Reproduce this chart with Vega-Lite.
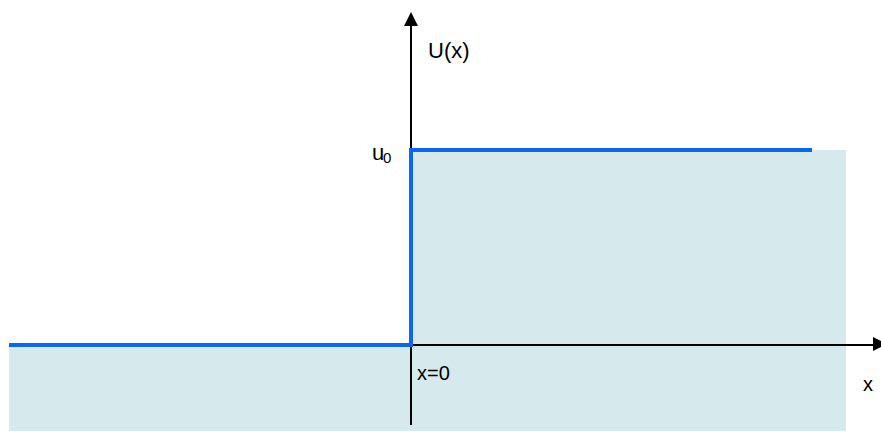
{
  "$schema": "https://vega.github.io/schema/vega-lite/v6.json",
  "width": 881,
  "height": 432,
  "autosize": {"type": "none"},
  "padding": 0,
  "background": "white",
  "config": {"view": {"stroke": null}},
  "datasets": {
    "regions": [
      {"x0": -4.02, "x1": 0, "y0": -0.441, "y1": 0},
      {"x0": 0, "x1": 4.35, "y0": -0.441, "y1": 1}
    ],
    "axes": [
      {"x0": -4.02, "x1": 4.64, "y0": 0, "y1": 0},
      {"x0": 0, "x1": 0, "y0": -0.41, "y1": 1.64}
    ],
    "potential": [
      {"i": 0, "x": -4.02, "u": 0},
      {"i": 1, "x": 0, "u": 0},
      {"i": 2, "x": 0, "u": 1},
      {"i": 3, "x": 4.01, "u": 1}
    ],
    "arrowUp": [{"x": 0, "y": 1.672}],
    "arrowRight": [{"x": 4.69, "y": 0.005}],
    "labels": [
      {"x": 0.17, "y": 1.472, "text": "U(x)", "size": 22},
      {"x": -0.39, "y": 0.949, "text": "u", "size": 22},
      {"x": -0.28, "y": 0.935, "text": "0", "size": 15},
      {"x": 0.06, "y": -0.179, "text": "x=0", "size": 20},
      {"x": 4.52, "y": -0.236, "text": "x", "size": 20}
    ]
  },
  "encoding": {},
  "layer": [
    {
      "data": {"name": "regions"},
      "mark": {"type": "rect", "color": "#d6eaed"},
      "encoding": {
        "x": {"field": "x0", "type": "quantitative", "scale": {"domain": [-4.11, 4.7], "nice": false, "zero": false}, "axis": null},
        "x2": {"field": "x1"},
        "y": {"field": "y0", "type": "quantitative", "scale": {"domain": [-0.446, 1.769], "nice": false, "zero": false}, "axis": null},
        "y2": {"field": "y1"}
      }
    },
    {
      "data": {"name": "axes"},
      "mark": {"type": "rule", "color": "black", "strokeWidth": 2},
      "encoding": {
        "x": {"field": "x0", "type": "quantitative"},
        "x2": {"field": "x1"},
        "y": {"field": "y0", "type": "quantitative"},
        "y2": {"field": "y1"}
      }
    },
    {
      "data": {"name": "potential"},
      "mark": {"type": "line", "color": "#0a66f5", "strokeWidth": 4, "strokeJoin": "miter", "strokeCap": "butt"},
      "encoding": {
        "x": {"field": "x", "type": "quantitative"},
        "y": {"field": "u", "type": "quantitative"},
        "order": {"field": "i"}
      }
    },
    {
      "data": {"name": "arrowUp"},
      "mark": {"type": "point", "shape": "M0,-1L1,1L-1,1Z", "size": 196, "filled": true, "color": "black", "opacity": 1},
      "encoding": {
        "x": {"field": "x", "type": "quantitative"},
        "y": {"field": "y", "type": "quantitative"}
      }
    },
    {
      "data": {"name": "arrowRight"},
      "mark": {"type": "point", "shape": "M1,0L-1,-1L-1,1Z", "size": 196, "filled": true, "color": "black", "opacity": 1},
      "encoding": {
        "x": {"field": "x", "type": "quantitative"},
        "y": {"field": "y", "type": "quantitative"}
      }
    },
    {
      "data": {"name": "labels"},
      "mark": {"type": "text", "align": "left", "baseline": "alphabetic", "font": "Liberation Sans", "color": "black"},
      "encoding": {
        "x": {"field": "x", "type": "quantitative"},
        "y": {"field": "y", "type": "quantitative"},
        "text": {"field": "text"},
        "size": {"field": "size", "type": "quantitative", "scale": null}
      }
    }
  ]
}
